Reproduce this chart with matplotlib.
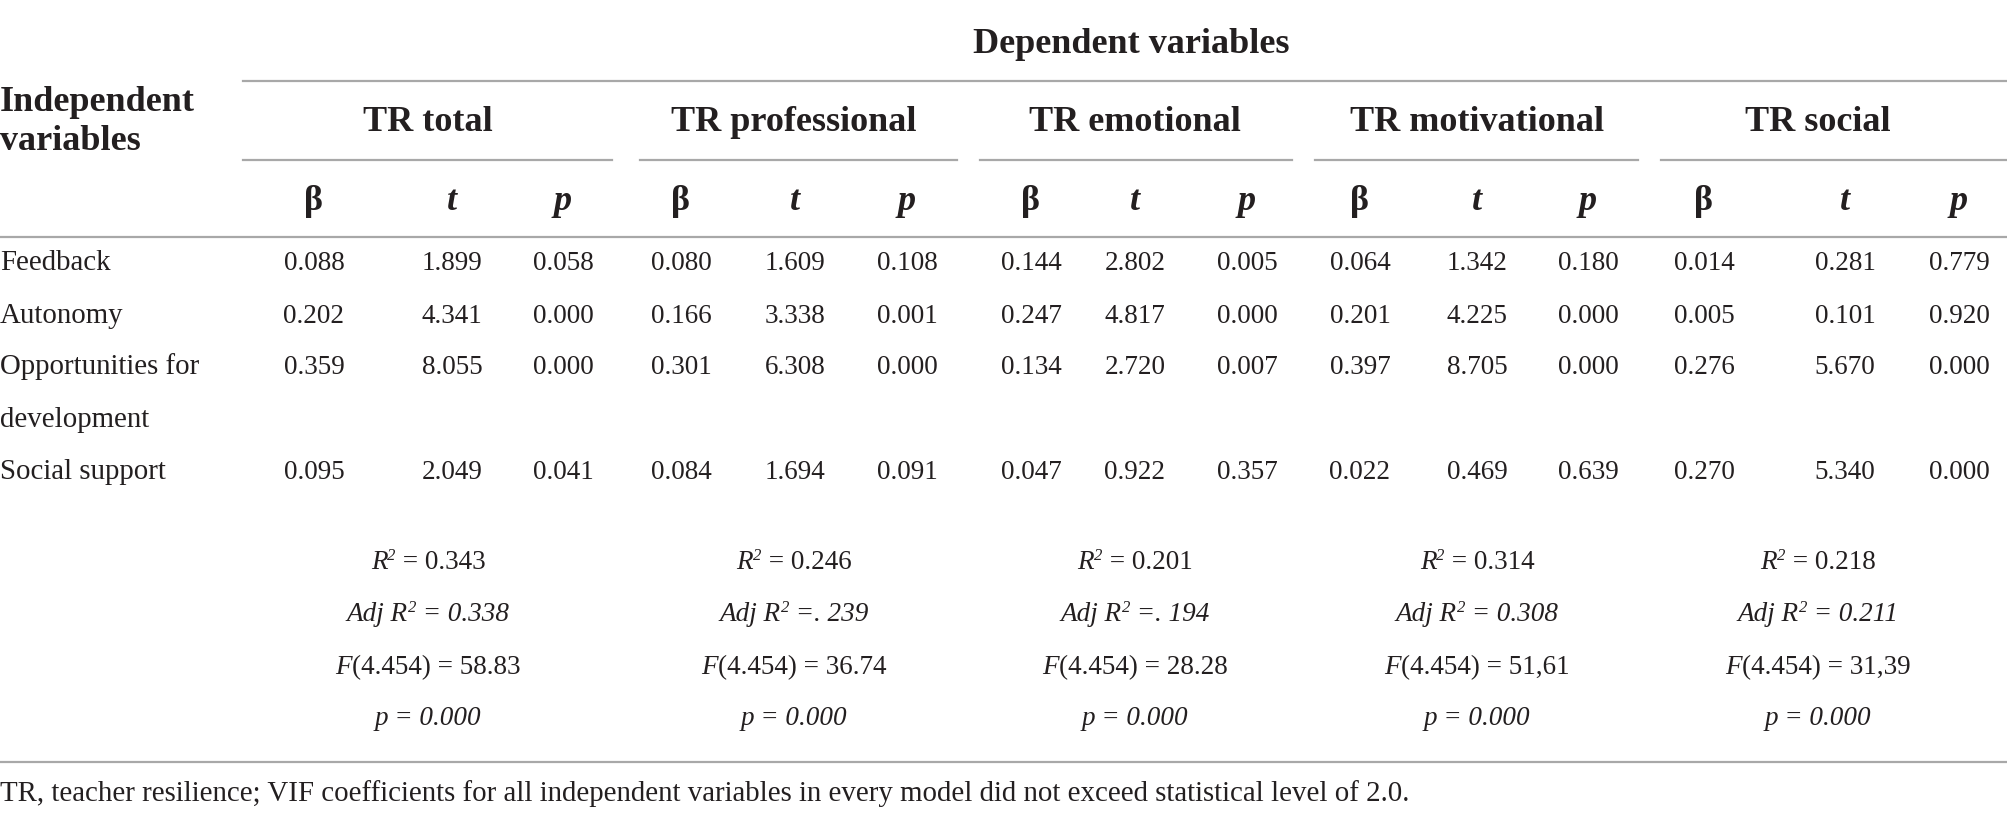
import matplotlib.pyplot as plt

plt.rcParams["font.family"] = ["Liberation Serif", "DejaVu Serif"]

# table content
outcomes = ["TR total", "TR professional", "TR emotional", "TR motivational", "TR social"]
predictors = ["Feedback", "Autonomy", "Opportunities for\ndevelopment", "Social support"]

beta = {
    "TR total": ["0.088", "0.202", "0.359", "0.095"],
    "TR professional": ["0.080", "0.166", "0.301", "0.084"],
    "TR emotional": ["0.144", "0.247", "0.134", "0.047"],
    "TR motivational": ["0.064", "0.201", "0.397", "0.022"],
    "TR social": ["0.014", "0.005", "0.276", "0.270"],
}
t_val = {
    "TR total": ["1.899", "4.341", "8.055", "2.049"],
    "TR professional": ["1.609", "3.338", "6.308", "1.694"],
    "TR emotional": ["2.802", "4.817", "2.720", "0.922"],
    "TR motivational": ["1.342", "4.225", "8.705", "0.469"],
    "TR social": ["0.281", "0.101", "5.670", "5.340"],
}
p_val = {
    "TR total": ["0.058", "0.000", "0.000", "0.041"],
    "TR professional": ["0.108", "0.001", "0.000", "0.091"],
    "TR emotional": ["0.005", "0.000", "0.007", "0.357"],
    "TR motivational": ["0.180", "0.000", "0.000", "0.639"],
    "TR social": ["0.779", "0.920", "0.000", "0.000"],
}
r2 = ["0.343", "0.246", "0.201", "0.314", "0.218"]
adj_r2 = ["0.338", ". 239", ". 194", "0.308", "0.211"]
f_stat = ["58.83", "36.74", "28.28", "51,61", "31,39"]
model_p = ["0.000", "0.000", "0.000", "0.000", "0.000"]

footnote = ("TR, teacher resilience; VIF coefficients for all independent variables "
            "in every model did not exceed statistical level of 2.0.")

# layout (pixels)
W, H = 2008, 815
ink = "#231f20"
rule = "#a8a8a8"
body = 19.5
label = 20.8
head = 26
group_x = [428, 794, 1135, 1477, 1818]
group_span = [(243, 612), (640, 957), (980, 1292), (1315, 1638), (1661, 2008)]
col_x = [(314, 452, 563), (681, 795, 907), (1031, 1135, 1247),
         (1360, 1477, 1588), (1704, 1845, 1959)]
row_y = [270, 323, 374, 479]
stats_y = [569, 621, 674, 725]

fig, ax = plt.subplots(figsize=(W / 100, H / 100), dpi=100)
ax.set_position([0, 0, 1, 1])
ax.set_xlim(0, W)
ax.set_ylim(H, 0)
ax.axis("off")
renderer = fig.canvas.get_renderer()


def runs_centered(xc, y, runs):
    # runs: (text, italic, superscript); laid side by side, centred on xc
    objs = []
    for s, it, sup in runs:
        t = ax.text(0, y - (9 if sup else 0), s, ha="left", va="baseline",
                    fontsize=body * (0.62 if sup else 1),
                    style="italic" if it else "normal", color=ink)
        objs.append(t)
    widths = [t.get_window_extent(renderer).width for t in objs]
    x = xc - sum(widths) / 2
    for t, w in zip(objs, widths):
        t.set_x(x)
        x += w


ax.text(1131, 53, "Dependent variables", ha="center", va="baseline",
        fontsize=head, fontweight="bold", color=ink)
ax.plot([243, W], [81, 81], color=rule, lw=1.6)
ax.text(0, 111, "Independent", ha="left", va="baseline", fontsize=head,
        fontweight="bold", color=ink)
ax.text(0, 150, "variables", ha="left", va="baseline", fontsize=head,
        fontweight="bold", color=ink)

for i, name in enumerate(outcomes):
    ax.text(group_x[i], 131, name, ha="center", va="baseline", fontsize=head,
            fontweight="bold", color=ink)
    x0, x1 = group_span[i]
    ax.plot([x0, x1], [160, 160], color=rule, lw=1.6)
    cb, ct, cp = col_x[i]
    ax.text(cb, 210, "β", ha="center", va="baseline", fontsize=head,
            fontweight="bold", color=ink)
    ax.text(ct, 210, "t", ha="center", va="baseline", fontsize=head,
            fontweight="bold", style="italic", color=ink)
    ax.text(cp, 210, "p", ha="center", va="baseline", fontsize=head,
            fontweight="bold", style="italic", color=ink)
    for j in range(len(predictors)):
        for x, vals in zip(col_x[i], (beta, t_val, p_val)):
            ax.text(x, row_y[j], vals[name][j], ha="center", va="baseline",
                    fontsize=body, color=ink)
    runs_centered(group_x[i], stats_y[0],
                  [("R", True, False), ("2", True, True), (" = " + r2[i], False, False)])
    runs_centered(group_x[i], stats_y[1],
                  [("Adj R", True, False), ("2", True, True), (" =" + ("" if adj_r2[i].startswith(".") else " ") + adj_r2[i], True, False)])
    runs_centered(group_x[i], stats_y[2],
                  [("F", True, False), ("(4.454) = " + f_stat[i], False, False)])
    runs_centered(group_x[i], stats_y[3],
                  [("p = " + model_p[i], True, False)])

ax.plot([0, W], [237, 237], color=rule, lw=1.6)

# predictor labels, wrapped ones continue on the next line
for j, lab in enumerate(predictors):
    for k, part in enumerate(lab.split("\n")):
        ax.text(0, row_y[j] + k * 53, part, ha="left", va="baseline",
                fontsize=label, color=ink)

ax.plot([0, W], [762, 762], color=rule, lw=1.6)
ax.text(0, 801, footnote, ha="left", va="baseline", fontsize=label, color=ink)

fig.savefig("out.png", dpi=100)
